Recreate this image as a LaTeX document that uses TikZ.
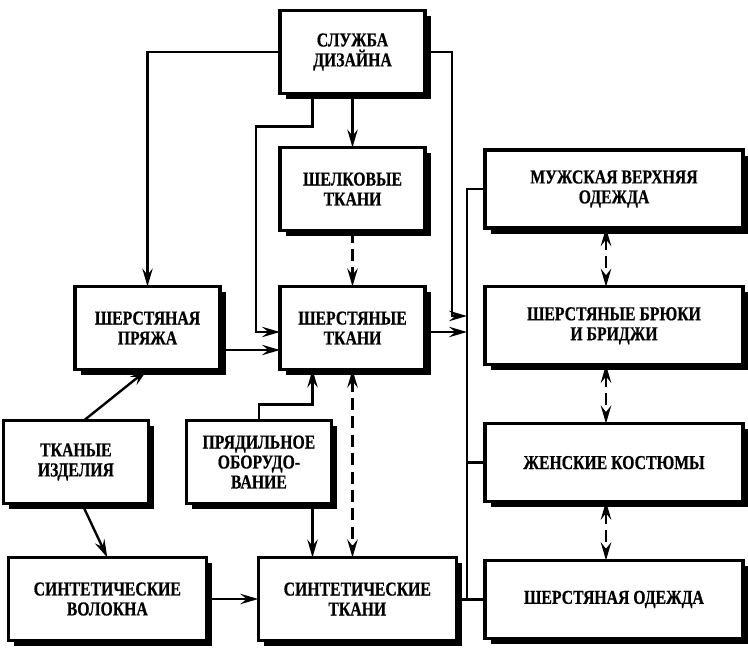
\documentclass[tikz,border=0pt]{standalone}
\usepackage{fontspec}
\setmainfont{Liberation Serif}[FakeStretch=0.8, BoldFeatures={FakeBold=0.6}]
\usetikzlibrary{arrows.meta,positioning,shadows,calc}

\begin{document}
\begin{tikzpicture}[
    >={Stealth[length=4.5mm,width=2.6mm,inset=1.6mm]},
    box/.style={rectangle, draw, line width=2.2pt, outer sep=0pt, fill=white, align=center, minimum width=3.625cm, minimum height=2.075cm, font=\fontsize{14}{14.2}\selectfont\bfseries, drop shadow={shadow xshift=0.14cm, shadow yshift=-0.14cm, fill=black, opacity=1}},
    wbox/.style={box, minimum width=4.95cm},
    rbox/.style={box, minimum width=6.45cm, minimum height=1.95cm},
    link/.style={line width=1.7pt},
    dlink/.style={link, line width=2pt, dash pattern=on 3mm off 1.6mm}
]
    \useasboundingbox (0,0) rectangle (18.7,-16.225);

    \node[box] (sluzhba) at (8.8125,-1.3) {СЛУЖБА\\ДИЗАЙНА};
    \node[box, below=1.35cm of sluzhba] (shelk) {ШЕЛКОВЫЕ\\ТКАНИ};
    \node[box, below=1.4cm of shelk] (sherst) {ШЕРСТЯНЫЕ\\ТКАНИ};
    \node[box, left=1.5cm of sherst] (pryazha) {ШЕРСТЯНАЯ\\ПРЯЖА};
    \node[box, below=1.275cm of sherst, xshift=-2.34cm] (pryad) {ПРЯДИЛЬНОЕ\\ОБОРУДО-\\ВАНИЕ};
    \node[box, left=0.95cm of pryad] (tkanye) {ТКАНЫЕ\\ИЗДЕЛИЯ};
    \node[wbox, below=4.7cm of sherst, xshift=0.12cm] (sintkani) {СИНТЕТИЧЕСКИЕ\\ТКАНИ};
    \node[wbox, left=1.3cm of sintkani] (volokna) {СИНТЕТИЧЕСКИЕ\\ВОЛОКНА};
    \node[rbox, right=1.5cm of shelk] (muzh) {МУЖСКАЯ ВЕРХНЯЯ\\ОДЕЖДА};
    \node[rbox, below=1.47cm of muzh] (bryuki) {ШЕРСТЯНЫЕ БРЮКИ\\И БРИДЖИ};
    \node[rbox, below=1.47cm of bryuki] (zhensk) {ЖЕНСКИЕ КОСТЮМЫ};
    \node[rbox, below=1.47cm of zhensk] (odezhda) {ШЕРСТЯНАЯ ОДЕЖДА};

    \coordinate (bustop) at ($(muzh.west)+(-0.45,0)$);
    \coordinate (busbot) at (bustop |- odezhda.west);
    \coordinate (busmid) at (bustop |- sherst.east);
    \coordinate (pryadout) at ([xshift=-1cm]sherst.south);

    \draw[link, ->] (sluzhba) -- (shelk);
    \draw[dlink, ->] (shelk) -- (sherst);
    \draw[link, ->] (sluzhba.west) -| (pryazha.north);
    \draw[link, ->] (sluzhba.east) -| ([xshift=0.675cm, yshift=0.3cm]sherst.east) -- ([yshift=0.3cm]busmid);
    \draw[link, ->] ([xshift=-1cm]sluzhba.south) -- ++(0,-0.825) -| ([xshift=-0.6cm, yshift=-0.1cm]sherst.west) -- ([yshift=-0.1cm]sherst.west);
    \draw[link, ->] ([yshift=-0.55cm]pryazha.east) -- ([yshift=-0.55cm]sherst.west);
    \draw[link, ->] ([yshift=-0.1cm]sherst.east) -- ([yshift=-0.1cm]busmid);

    \draw[link] (muzh.west) -- (bustop) -- (busbot) -- (odezhda.west);
    \draw[link] (zhensk.west) -- (bustop |- zhensk.west);
    \draw[link] (sintkani.east |- busbot) -- (busbot);

    \draw[dlink, <->] ([xshift=-0.2cm]muzh.south) -- ([xshift=-0.2cm]bryuki.north);
    \draw[dlink, <->] ([xshift=-0.2cm]bryuki.south) -- ([xshift=-0.2cm]zhensk.north);
    \draw[dlink, <->] ([xshift=-0.2cm]zhensk.south) -- ([xshift=-0.2cm]odezhda.north);

    \draw[link, ->] ([xshift=0.2cm]tkanye.north) -- (pryazha.south);
    \draw[link, ->] ([xshift=0.15cm]tkanye.south) -- (volokna.north);
    \draw[link, ->] (volokna) -- (sintkani);
    \draw[link, ->] (pryad.north) -- ++(0,0.4) -| (pryadout);
    \draw[link, ->] (pryadout |- pryad.south) -- (pryadout |- sintkani.north);
    \draw[dlink, <->] (sherst.south) -- (sherst.south |- sintkani.north);
\end{tikzpicture}
\end{document}
